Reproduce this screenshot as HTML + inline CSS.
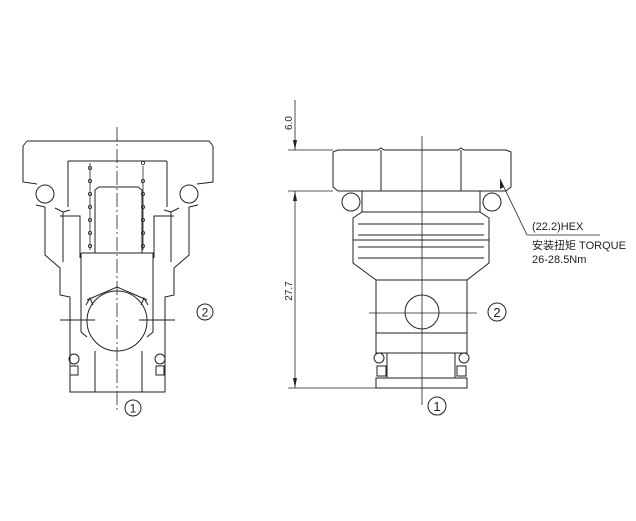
<!DOCTYPE html>
<html><head><meta charset="utf-8"><style>
html,body{margin:0;padding:0;background:#fff;}
svg{display:block;}
text{font-family:"Liberation Sans","Noto Sans CJK SC",sans-serif;fill:#222;}
</style></head><body>
<svg width="636" height="521" viewBox="0 0 636 521" xmlns="http://www.w3.org/2000/svg">
<g fill="none" stroke="#222" stroke-width="1">
<!-- LEFT VIEW -->
<line x1="117" y1="127" x2="117" y2="410" stroke-dasharray="14,3,2,3" stroke-width="0.8"/>
<!-- cap -->
<path d="M27,141 L209,141 L213,146 L213,182 L197,184 M23,146 L27,141 M23,146 L23,182 L37,184"/>
<line x1="68" y1="161" x2="167" y2="161"/>
<line x1="68" y1="161" x2="68" y2="207"/>
<line x1="167" y1="161" x2="167" y2="207"/>
<circle cx="45" cy="194" r="9"/>
<circle cx="189" cy="194" r="9"/>
<!-- outer sleeve left -->
<path d="M36,205 L45,207 L45,255 L60,268 L60,295 L70,297 L70,392 L165,392 L165,297 L174,295 L174,268 L189,255 L189,207 L198,205"/>
<path d="M55,208 L63,212 L63,262 M70,210 L63,212 M179,208 L171,212 L171,262 M164,210 L171,212"/>
<path d="M60,216 L80,216 L80,258 M174,216 L154,216 L154,258"/>
<!-- spring bore -->
<path d="M95,253 L95,190 L99,187 L138,187 L142,190 L142,253"/>
<g stroke-width="0.8">
<circle cx="90" cy="168" r="1.6"/><circle cx="90" cy="181" r="1.6"/><circle cx="90" cy="194" r="1.6"/><circle cx="90" cy="207" r="1.6"/><circle cx="90" cy="220" r="1.6"/><circle cx="90" cy="233" r="1.6"/><circle cx="90" cy="246" r="1.6"/>
<circle cx="143" cy="163" r="1.6"/><circle cx="143" cy="181" r="1.6"/><circle cx="143" cy="194" r="1.6"/><circle cx="143" cy="207" r="1.6"/><circle cx="143" cy="220" r="1.6"/><circle cx="143" cy="233" r="1.6"/><circle cx="143" cy="246" r="1.6"/>
<line x1="90" y1="163" x2="90" y2="250"/><line x1="143" y1="166" x2="143" y2="250"/>
</g>
<!-- poppet -->
<path d="M81,253 L153,253 L153,332 L147,337 M81,253 L81,332 L87,337"/>
<path d="M87,300 L117,287 L147,300"/>
<path d="M86,305 L90,298 L93,305 M148,305 L144,298 L141,305"/>
<circle cx="117" cy="321" r="30"/>
<line x1="95" y1="351" x2="95" y2="392"/>
<line x1="142" y1="351" x2="142" y2="392"/>
<circle cx="74" cy="359" r="5"/>
<circle cx="160" cy="359" r="5"/>
<rect x="70" y="366" width="8" height="9"/>
<rect x="156" y="366" width="8" height="9"/>
<line x1="60" y1="320" x2="95" y2="320"/>
<line x1="139" y1="320" x2="175" y2="320"/>
<circle cx="205" cy="312" r="8"/>
<circle cx="133" cy="408" r="8"/>

<!-- RIGHT VIEW -->
<line x1="422" y1="136" x2="422" y2="405" stroke-width="0.8"/>
<path d="M333,152 L338,150 L378,150 L381,148 L384,150 L458,150 L461,148 L464,150 L506,150 L511,152 L511,187 L506,191 L338,191 L333,187 Z"/>
<line x1="381" y1="150" x2="381" y2="191"/>
<line x1="461" y1="150" x2="461" y2="191"/>
<circle cx="351" cy="202" r="9"/>
<circle cx="492" cy="202" r="9"/>
<path d="M362,191 L362,212 L353,218 L353,263 L376,280 L376,333 L467,333 L467,280 L489,263 L489,218 L480,212 L480,191"/>
<line x1="362" y1="212" x2="480" y2="212"/>
<g stroke-width="0.9">
<line x1="358" y1="224" x2="484" y2="224"/>
<line x1="358" y1="235" x2="484" y2="235"/>
<line x1="353" y1="240" x2="489" y2="240"/>
<line x1="358" y1="247" x2="484" y2="247"/>
<line x1="358" y1="258" x2="484" y2="258"/>
</g>
<line x1="376" y1="280" x2="467" y2="280"/>
<circle cx="422" cy="312" r="17"/>
<line x1="369" y1="313" x2="477" y2="313" stroke-width="0.8"/>
<path d="M376,333 L376,353 L387,353 L387,378 M467,333 L467,353 L455,353 L455,378"/>
<line x1="376" y1="353" x2="467" y2="353"/>
<circle cx="379" cy="358" r="5"/>
<circle cx="464" cy="358" r="5"/>
<rect x="377" y="366" width="9" height="10"/>
<rect x="457" y="366" width="9" height="10"/>
<rect x="376" y="378" width="91" height="10"/>
<!-- dimensions -->
<g stroke-width="0.8">
<line x1="288" y1="150" x2="333" y2="150"/>
<line x1="288" y1="191" x2="333" y2="191"/>
<line x1="288" y1="388" x2="376" y2="388"/>
<line x1="295" y1="100" x2="295" y2="150"/>
<line x1="295" y1="191" x2="295" y2="388"/>
<line x1="500" y1="179" x2="527" y2="235"/>
<line x1="527" y1="235" x2="600" y2="235"/>
</g>
</g>
<g fill="#222">
<path d="M295,150 L293,140 L297,140 Z"/>
<path d="M295,191 L293,201 L297,201 Z"/>
<path d="M295,388 L293,378 L297,378 Z"/>
<path d="M500,179 L500,189 L504,187 Z"/>
</g>
<text transform="translate(292,123) rotate(-90)" font-size="10" text-anchor="middle">6.0</text>
<text transform="translate(292,291) rotate(-90)" font-size="10" text-anchor="middle">27.7</text>
<text x="532" y="230" font-size="11">(22.2)HEX</text>
<text x="532" y="249" font-size="11">安装扭矩 TORQUE</text>
<text x="532" y="263" font-size="11">26-28.5Nm</text>
<text x="205" y="316.5" font-size="12" text-anchor="middle">2</text>
<text x="133" y="412.5" font-size="12" text-anchor="middle">1</text>
<g fill="none" stroke="#222"><circle cx="497" cy="312" r="9"/><circle cx="437" cy="406" r="9"/></g>
<text x="497" y="317" font-size="13" text-anchor="middle">2</text>
<text x="437" y="411" font-size="13" text-anchor="middle">1</text>
</svg>
</body></html>
